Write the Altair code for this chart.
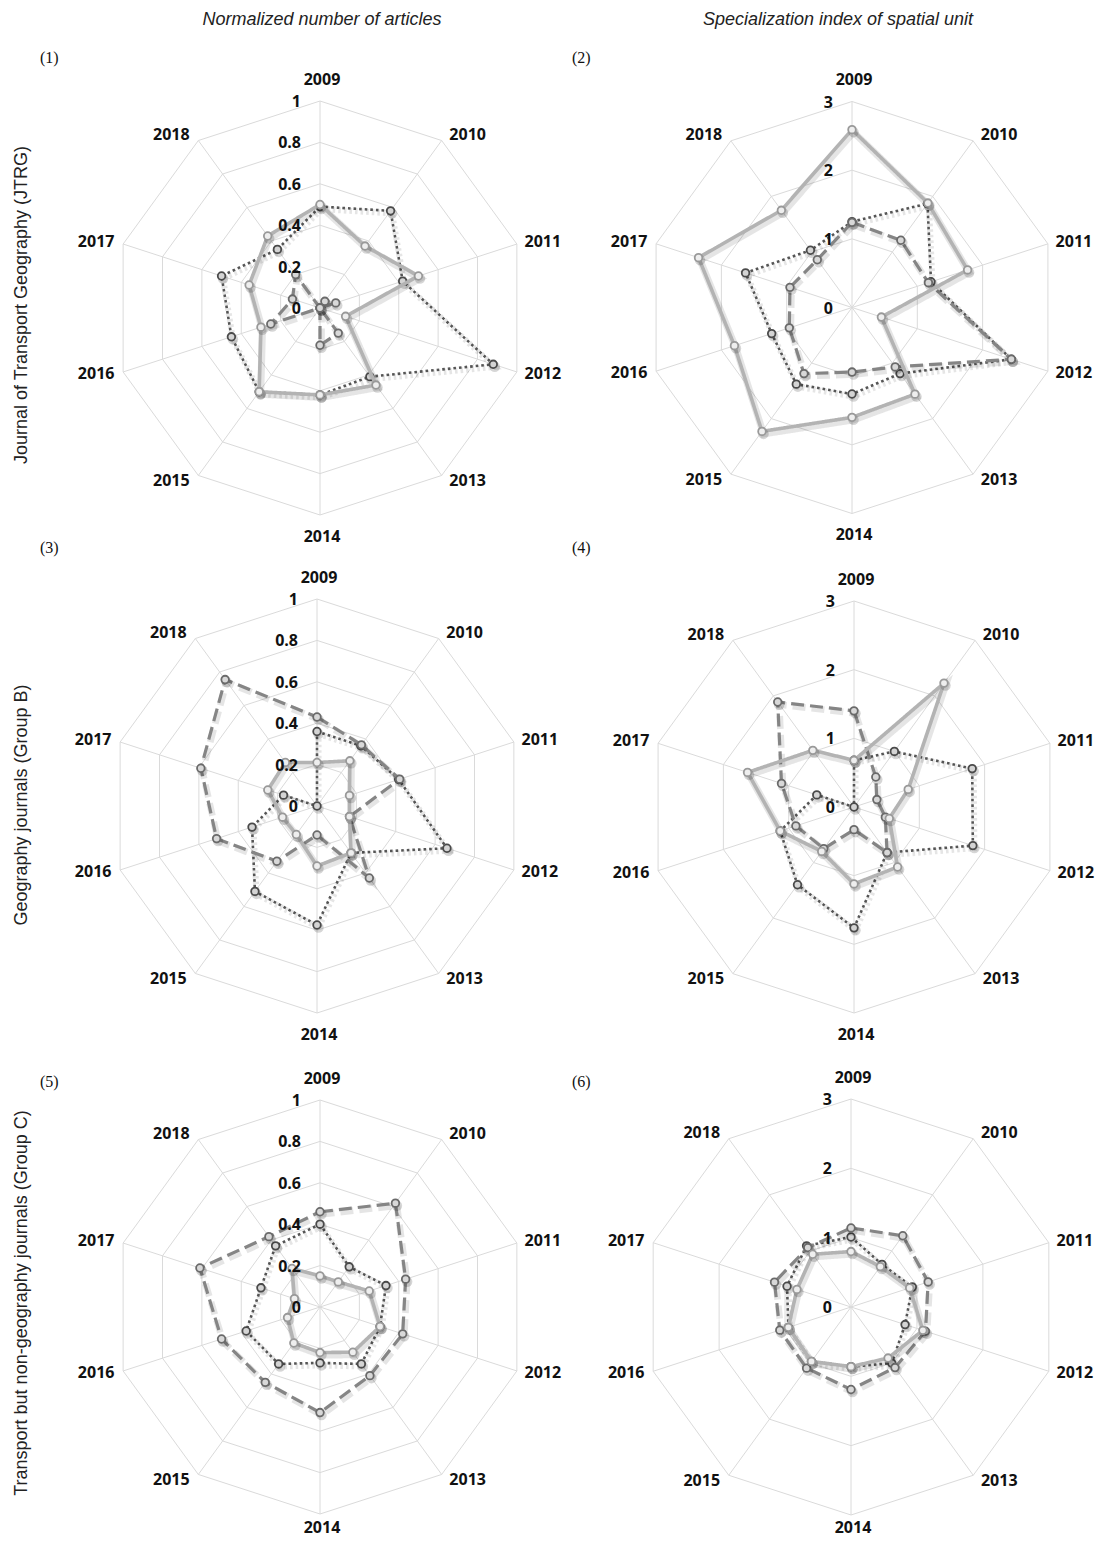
import altair as alt
import pandas as pd

# ---------------- data ----------------
years = ["2009", "2010", "2011", "2012", "2013", "2014", "2015", "2016", "2017", "2018"]

# panel (1): normalized number of articles, JTRG
p1_solid = [0.50, 0.37, 0.50, 0.13, 0.46, 0.42, 0.50, 0.30, 0.36, 0.43]
p1_dotted = [0.49, 0.58, 0.42, 0.88, 0.41, 0.42, 0.50, 0.45, 0.50, 0.35]
p1_dashed = [0.00, 0.04, 0.08, 0.00, 0.15, 0.18, 0.00, 0.25, 0.14, 0.20]
# panel (2): specialization index, JTRG
p2_solid = [2.59, 1.88, 1.77, 0.45, 1.56, 1.60, 2.23, 1.80, 2.35, 1.75]
p2_dotted = [1.25, 1.87, 1.21, 2.44, 1.19, 1.26, 1.38, 1.23, 1.63, 1.03]
p2_dashed = [1.24, 1.21, 1.17, 2.44, 1.07, 0.94, 1.19, 0.96, 0.95, 0.86]
# panel (3): normalized number of articles, Group B
p3_solid = [0.21, 0.27, 0.165, 0.165, 0.28, 0.29, 0.17, 0.175, 0.25, 0.26]
p3_dotted = [0.36, 0.36, 0.415, 0.66, 0.28, 0.575, 0.51, 0.33, 0.17, 0.00]
p3_dashed = [0.43, 0.365, 0.42, 0.165, 0.43, 0.14, 0.33, 0.51, 0.59, 0.755]
# panel (4): specialization index, Group B
p4_solid = [0.68, 2.23, 0.83, 0.54, 1.08, 1.12, 0.80, 1.13, 1.63, 1.02]
p4_dotted = [0.68, 1.00, 1.81, 1.82, 0.82, 1.76, 1.40, 1.13, 0.57, 0.00]
p4_dashed = [1.40, 0.54, 0.35, 0.48, 0.82, 0.33, 0.75, 0.89, 1.11, 1.89]
# panel (5): normalized number of articles, Group C
p5_solid = [0.15, 0.15, 0.25, 0.305, 0.27, 0.22, 0.215, 0.165, 0.13, 0.23]
p5_dotted = [0.40, 0.24, 0.335, 0.305, 0.34, 0.27, 0.34, 0.375, 0.30, 0.365]
p5_dashed = [0.46, 0.62, 0.435, 0.42, 0.41, 0.51, 0.45, 0.50, 0.61, 0.42]
# panel (6): specialization index, Group C
p6_solid = [0.80, 0.72, 0.89, 1.09, 0.91, 0.86, 0.97, 0.95, 0.82, 0.94]
p6_dotted = [1.01, 0.76, 0.93, 0.82, 1.00, 0.86, 0.97, 0.95, 0.97, 1.09]
p6_dashed = [1.14, 1.27, 1.17, 1.13, 1.08, 1.19, 1.09, 1.08, 1.16, 1.06]

ticks_left = ["0", "0.2", "0.4", "0.6", "0.8", "1"]
ticks_right = ["0", "1", "2", "3"]

col_titles = ["Normalized number of articles", "Specialization index of spatial unit"]
row_titles = ["Journal of Transport Geography (JTRG)", "Geography journals (Group B)",
              "Transport but non-geography journals (Group C)"]
panel_tags = ["(1)", "(2)", "(3)", "(4)", "(5)", "(6)"]

# ---------------- layout (image pixel coordinates) ----------------
layout = {
    1: dict(cx=320, cy=308, R=207, vmax=1),
    2: dict(cx=852, cy=307.5, R=206, vmax=3),
    3: dict(cx=317, cy=806, R=207, vmax=1),
    4: dict(cx=854, cy=807, R=206, vmax=3),
    5: dict(cx=320, cy=1307, R=207, vmax=1),
    6: dict(cx=851, cy=1307, R=208, vmax=3),
}

series_data = {
    1: {"solid": p1_solid, "dotted": p1_dotted, "dashed": p1_dashed},
    2: {"solid": p2_solid, "dotted": p2_dotted, "dashed": p2_dashed},
    3: {"solid": p3_solid, "dotted": p3_dotted, "dashed": p3_dashed},
    4: {"solid": p4_solid, "dotted": p4_dotted, "dashed": p4_dashed},
    5: {"solid": p5_solid, "dotted": p5_dotted, "dashed": p5_dashed},
    6: {"solid": p6_solid, "dotted": p6_dotted, "dashed": p6_dashed},
}

rows = []
for p, d in series_data.items():
    for s, vals in d.items():
        for i, v in enumerate(vals + [vals[0]]):
            rows.append(dict(panel=p, series=s, idx=i, value=v, **layout[p]))
sdf = pd.DataFrame(rows)

grid_rows, spoke_rows, tick_rows, year_rows = [], [], [], []
for p, g in layout.items():
    labels = ticks_left if g["vmax"] == 1 else ticks_right
    n = len(labels) - 1
    for k, lab in enumerate(labels):
        tick_rows.append(dict(panel=p, idx=0, frac=k / n, label=lab, **g))
        if k > 0:
            for i in range(11):
                grid_rows.append(dict(panel=p, ring=p * 10 + k, idx=i, frac=k / n, **g))
    for i in range(10):
        spoke_rows.append(dict(panel=p, idx=i, frac=1.0, **g))
        year_rows.append(dict(panel=p, idx=i, frac=1.0, year=years[i], **g))
gdf = pd.DataFrame(grid_rows)
spdf = pd.DataFrame(spoke_rows)
tdf = pd.DataFrame(tick_rows)
ydf = pd.DataFrame(year_rows)

XS = alt.Scale(domain=[8, 1098], nice=False, zero=False)
YS = alt.Scale(domain=[8, 1539], nice=False, zero=False, reverse=True)


def polar(ch, rexpr):
    return ch.transform_calculate(r=rexpr).transform_calculate(
        x="datum.cx + datum.r*sin(datum.idx*PI/5)",
        y="datum.cy - datum.r*cos(datum.idx*PI/5)",
    )


XE = alt.X("x:Q", scale=XS, axis=None)
YE = alt.Y("y:Q", scale=YS, axis=None)

GRID = "#dadada"

grid = polar(alt.Chart(gdf).mark_line(color=GRID, strokeWidth=1), "datum.R*datum.frac").encode(
    x=XE, y=YE, order="idx:Q", detail="ring:N")

spokes = polar(alt.Chart(spdf).mark_rule(color=GRID, strokeWidth=1), "datum.R*datum.frac").encode(
    x=alt.X("cx:Q", scale=XS, axis=None), y=alt.Y("cy:Q", scale=YS, axis=None),
    x2="x:Q", y2="y:Q")

styles = {
    "dotted": dict(color="#555555", width=2.6, dash=[2.6, 3.0], mstroke="#4a4a4a", mfill="#d4d4d4"),
    "dashed": dict(color="#858585", width=3.2, dash=[13, 6], mstroke="#6a6a6a", mfill="#d8d8d8"),
    "solid": dict(color="#b3b3b3", width=3.6, dash=[1, 0], mstroke="#999999", mfill="#eeeeee"),
}

series_layers = []
for s in ["dotted", "dashed", "solid"]:
    st = styles[s]
    base = polar(alt.Chart(sdf).transform_filter(alt.datum.series == s), "datum.R*datum.value/datum.vmax")
    shadow = base.mark_line(color="#000000", opacity=0.10, strokeWidth=st["width"] + 3.5,
                            xOffset=1.5, yOffset=2.5, strokeDash=st["dash"]).encode(
        x=XE, y=YE, order="idx:Q", detail="panel:N")
    line = base.mark_line(color=st["color"], strokeWidth=st["width"], strokeDash=st["dash"]).encode(
        x=XE, y=YE, order="idx:Q", detail="panel:N")
    pshadow = base.transform_filter(alt.datum.idx < 10).mark_circle(
        color="#000000", opacity=0.16, size=110, xOffset=1.5, yOffset=2.5).encode(x=XE, y=YE)
    pts = base.transform_filter(alt.datum.idx < 10).mark_point(
        shape="circle", filled=False, fill=st["mfill"], fillOpacity=1, stroke=st["mstroke"],
        strokeWidth=1.8, size=58, opacity=1).encode(x=XE, y=YE)
    series_layers += [shadow, line, pshadow, pts]

ticks = polar(alt.Chart(tdf).mark_text(align="right", baseline="middle", dx=-19, dy=1,
                                       font="Open Sans", fontWeight="bold", fontSize=16,
                                       color="#111111"),
              "datum.R*datum.frac").encode(x=XE, y=YE, text="label:N")

# year labels: placed just outside each outer vertex (Excel-like placement)
yearlab = polar(alt.Chart(ydf), "datum.R*datum.frac").transform_calculate(
    s="sin(datum.idx*PI/5)", c="cos(datum.idx*PI/5)"
).transform_calculate(
    lx="datum.x + (abs(datum.s) < 0.1 ? 2 : (datum.s > 0 ? 26 : -27))",
    ly="min(1527.5, datum.y + (abs(datum.s) < 0.1 ? (datum.c > 0 ? -21.5 : 21.5) : -7*datum.c))",
).mark_text(align="center", baseline="middle", font="Open Sans", fontWeight="bold",
            fontSize=16, color="#111111").encode(
    x=alt.X("lx:Q", scale=XS, axis=None), y=alt.Y("ly:Q", scale=YS, axis=None), text="year:N")

ann = []
dummy = pd.DataFrame({"a": [0]})
for t, xc in zip(col_titles, [322, 838]):
    ann.append(alt.Chart(dummy).mark_text(text=t, font="Liberation Sans", fontStyle="italic",
                                          fontSize=18, color="#222222", align="center",
                                          baseline="middle").encode(
        x=alt.value(xc - 8), y=alt.value(20 - 8)))
for t, yc in zip(row_titles, [305, 805, 1303]):
    ann.append(alt.Chart(dummy).mark_text(text=t, font="Liberation Sans", fontSize=18,
                                          color="#222222", angle=270, align="center",
                                          baseline="middle").encode(
        x=alt.value(22 - 8), y=alt.value(yc - 8)))
for t, (xl, yc) in zip(panel_tags, [(40, 58), (572, 58), (40, 548), (572, 548), (40, 1082), (572, 1082)]):
    ann.append(alt.Chart(dummy).mark_text(text=t, font="Liberation Serif", fontSize=16,
                                          color="#111111", align="left", baseline="middle").encode(
        x=alt.value(xl - 8), y=alt.value(yc - 8)))

chart = alt.layer(grid, spokes, *series_layers, ticks, yearlab, *ann).properties(
    width=1090, height=1531, padding=0,
    autosize=alt.AutoSizeParams(type="none"),
).configure_view(stroke=None)

chart.save("out.html", embed_options={"renderer": "svg", "actions": False})
